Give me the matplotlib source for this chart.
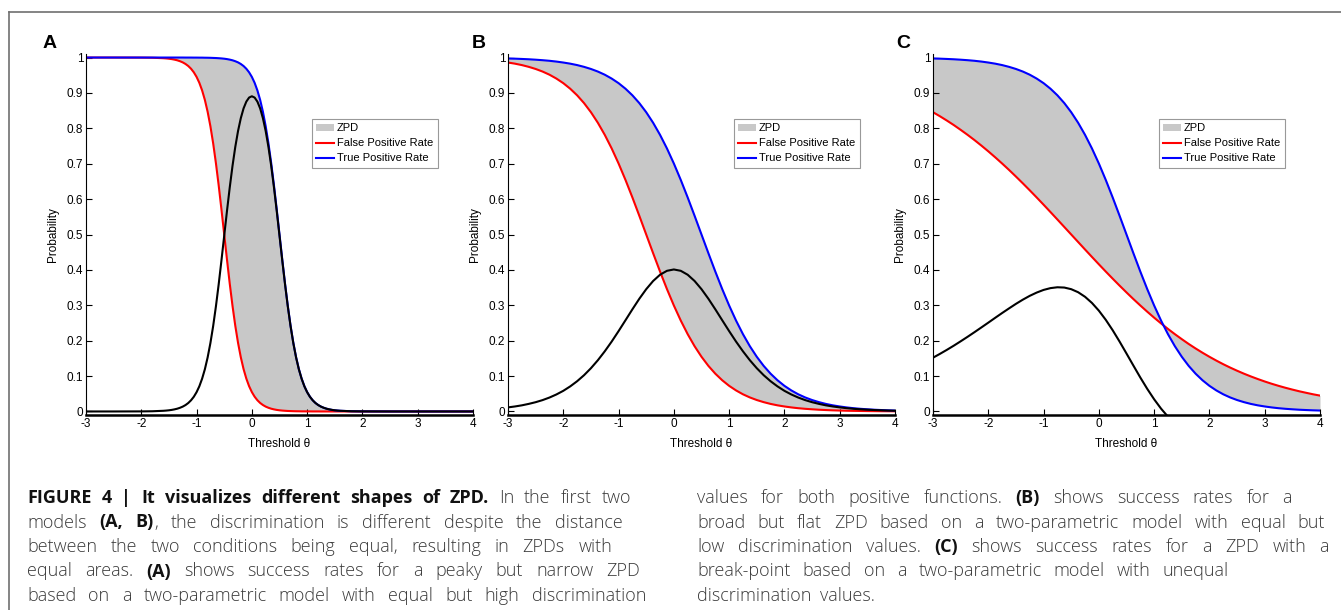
import matplotlib
matplotlib.use('Agg')
import matplotlib.pyplot as plt
from matplotlib.lines import Line2D

plt.rcParams['font.family'] = ['Liberation Sans', 'DejaVu Sans']
plt.rcParams['axes.unicode_minus'] = False

# ---- data ----
# panel A: steep curves, sampled finer in the middle
theta_a = [-3, -2.5, -2, -1.8,
           -1.6, -1.55, -1.5, -1.45, -1.4, -1.35, -1.3, -1.25, -1.2, -1.15, -1.1, -1.05,
           -1.0, -0.95, -0.9, -0.85, -0.8, -0.75, -0.7, -0.65, -0.6, -0.55, -0.5, -0.45,
           -0.4, -0.35, -0.3, -0.25, -0.2, -0.15, -0.1, -0.05, 0.0, 0.05, 0.1, 0.15, 0.2,
           0.25, 0.3, 0.35, 0.4, 0.45, 0.5, 0.55, 0.6, 0.65, 0.7, 0.75, 0.8, 0.85, 0.9,
           0.95, 1.0, 1.05, 1.1, 1.15, 1.2, 1.25, 1.3, 1.35, 1.4, 1.45, 1.5, 1.55, 1.6,
           1.8, 2, 2.5, 3, 3.5, 4]
fpr_a = [1.0, 1.0, 0.9998, 0.9994,
         0.9981, 0.9975, 0.9967, 0.9956, 0.9941, 0.9922, 0.9896, 0.9863, 0.9818, 0.9760,
         0.9683, 0.9583, 0.9453, 0.9286, 0.9072, 0.8803, 0.8468, 0.8061, 0.7577, 0.7016,
         0.6388, 0.5708, 0.5, 0.4292, 0.3612, 0.2984, 0.2423, 0.1939, 0.1532, 0.1197,
         0.0928, 0.0714, 0.0547, 0.0417, 0.0317, 0.0240, 0.0182, 0.0137, 0.0104, 0.0078,
         0.0059, 0.0044, 0.0033, 0.0025, 0.0019, 0.0014, 0.0011, 0.0008, 0.0006, 0.0005,
         0.0003, 0.0003, 0.0002, 0.0002, 0.0001, 0.0001, 0.0001, 0.0, 0.0, 0.0, 0.0, 0.0,
         0.0, 0.0, 0.0,
         0.0, 0.0, 0.0, 0.0, 0.0, 0.0]
tpr_a = [1.0, 1.0, 1.0, 1.0,
         1.0, 1.0, 1.0, 1.0, 1.0, 1.0, 1.0, 1.0, 0.9999, 0.9999, 0.9999, 0.9998, 0.9998,
         0.9997, 0.9997, 0.9995, 0.9994, 0.9992, 0.9989, 0.9986, 0.9981, 0.9975, 0.9967,
         0.9956, 0.9941, 0.9922, 0.9896, 0.9863, 0.9818, 0.9760, 0.9683, 0.9583, 0.9453,
         0.9286, 0.9072, 0.8803, 0.8468, 0.8061, 0.7577, 0.7016, 0.6388, 0.5708, 0.5,
         0.4292, 0.3612, 0.2984, 0.2423, 0.1939, 0.1532, 0.1197, 0.0928, 0.0714, 0.0547,
         0.0417, 0.0317, 0.0240, 0.0182, 0.0137, 0.0104, 0.0078, 0.0059, 0.0044, 0.0033,
         0.0025, 0.0019,
         0.0006, 0.0002, 0.0, 0.0, 0.0, 0.0]
zpd_a = [0.0, 0.0, 0.0002, 0.0006,
         0.0019, 0.0025, 0.0033, 0.0044, 0.0059, 0.0078, 0.0104, 0.0137, 0.0181, 0.0239,
         0.0316, 0.0415, 0.0545, 0.0711, 0.0925, 0.1192, 0.1526, 0.1931, 0.2412, 0.2970,
         0.3593, 0.4267, 0.4967, 0.5664, 0.6329, 0.6938, 0.7473, 0.7924, 0.8286, 0.8563,
         0.8755, 0.8869, 0.8906, 0.8869, 0.8755, 0.8563, 0.8286, 0.7924, 0.7473, 0.6938,
         0.6329, 0.5664, 0.4967, 0.4267, 0.3593, 0.2970, 0.2412, 0.1931, 0.1526, 0.1192,
         0.0925, 0.0711, 0.0545, 0.0415, 0.0316, 0.0239, 0.0181, 0.0137, 0.0104, 0.0078,
         0.0059, 0.0044, 0.0033, 0.0025, 0.0019,
         0.0006, 0.0002, 0.0, 0.0, 0.0, 0.0]

# panels B and C, theta from -3 to 4 in steps of 0.125
theta = [-3.0, -2.875, -2.75, -2.625, -2.5, -2.375, -2.25, -2.125, -2.0, -1.875, -1.75,
         -1.625, -1.5, -1.375, -1.25, -1.125, -1.0, -0.875, -0.75, -0.625, -0.5, -0.375,
         -0.25, -0.125, 0.0, 0.125, 0.25, 0.375, 0.5, 0.625, 0.75, 0.875, 1.0, 1.125, 1.25,
         1.375, 1.5, 1.625, 1.75, 1.875, 2.0, 2.125, 2.25, 2.375, 2.5, 2.625, 2.75, 2.875,
         3.0, 3.125, 3.25, 3.375, 3.5, 3.625, 3.75, 3.875, 4.0]
fpr_b = [0.9859, 0.9827, 0.9787, 0.9737, 0.9677, 0.9604, 0.9515, 0.9406, 0.9276, 0.9119,
         0.8933, 0.8713, 0.8455, 0.8157, 0.7816, 0.7432, 0.7006, 0.6542, 0.6047, 0.5529,
         0.5, 0.4471, 0.3953, 0.3458, 0.2994, 0.2568, 0.2184, 0.1843, 0.1545, 0.1287,
         0.1067, 0.0881, 0.0724, 0.0594, 0.0485, 0.0396, 0.0323, 0.0263, 0.0213, 0.0173,
         0.0141, 0.0114, 0.0092, 0.0075, 0.0061, 0.0049, 0.0040, 0.0032, 0.0026, 0.0021,
         0.0017, 0.0014, 0.0011, 0.0009, 0.0007, 0.0006, 0.0005]
tpr_b = [0.9974, 0.9968, 0.9960, 0.9951, 0.9939, 0.9925, 0.9908, 0.9886, 0.9859, 0.9827,
         0.9787, 0.9737, 0.9677, 0.9604, 0.9515, 0.9406, 0.9276, 0.9119, 0.8933, 0.8713,
         0.8455, 0.8157, 0.7816, 0.7432, 0.7006, 0.6542, 0.6047, 0.5529, 0.5, 0.4471,
         0.3953, 0.3458, 0.2994, 0.2568, 0.2184, 0.1843, 0.1545, 0.1287, 0.1067, 0.0881,
         0.0724, 0.0594, 0.0485, 0.0396, 0.0323, 0.0263, 0.0213, 0.0173, 0.0141, 0.0114,
         0.0092, 0.0075, 0.0061, 0.0049, 0.0040, 0.0032, 0.0026]
zpd_b = [0.0115, 0.0141, 0.0173, 0.0214, 0.0262, 0.0321, 0.0393, 0.0480, 0.0583, 0.0708,
         0.0854, 0.1024, 0.1222, 0.1447, 0.1699, 0.1974, 0.2270, 0.2577, 0.2886, 0.3184,
         0.3455, 0.3686, 0.3863, 0.3974, 0.4012, 0.3974, 0.3863, 0.3686, 0.3455, 0.3184,
         0.2886, 0.2577, 0.2270, 0.1974, 0.1699, 0.1447, 0.1222, 0.1024, 0.0854, 0.0708,
         0.0583, 0.0480, 0.0393, 0.0321, 0.0262, 0.0214, 0.0173, 0.0141, 0.0115, 0.0093,
         0.0075, 0.0061, 0.0050, 0.0040, 0.0033, 0.0026, 0.0021]
fpr_c = [0.8455, 0.8341, 0.8220, 0.8093, 0.7957, 0.7816, 0.7668, 0.7512, 0.7350, 0.7181,
         0.7006, 0.6825, 0.6637, 0.6445, 0.6248, 0.6047, 0.5842, 0.5634, 0.5424, 0.5212,
         0.5, 0.4788, 0.4576, 0.4366, 0.4158, 0.3953, 0.3752, 0.3555, 0.3363, 0.3175,
         0.2994, 0.2819, 0.2650, 0.2488, 0.2332, 0.2184, 0.2043, 0.1907, 0.1780, 0.1659,
         0.1545, 0.1437, 0.1335, 0.1240, 0.1151, 0.1067, 0.0989, 0.0916, 0.0847, 0.0783,
         0.0724, 0.0669, 0.0618, 0.0570, 0.0527, 0.0485, 0.0448]
tpr_c = [0.9974, 0.9968, 0.9960, 0.9951, 0.9939, 0.9925, 0.9908, 0.9886, 0.9859, 0.9827,
         0.9787, 0.9737, 0.9677, 0.9604, 0.9515, 0.9406, 0.9276, 0.9119, 0.8933, 0.8713,
         0.8455, 0.8157, 0.7816, 0.7432, 0.7006, 0.6542, 0.6047, 0.5529, 0.5, 0.4471,
         0.3953, 0.3458, 0.2994, 0.2568, 0.2184, 0.1843, 0.1545, 0.1287, 0.1067, 0.0881,
         0.0724, 0.0594, 0.0485, 0.0396, 0.0323, 0.0263, 0.0213, 0.0173, 0.0141, 0.0114,
         0.0092, 0.0075, 0.0061, 0.0049, 0.0040, 0.0032, 0.0026]
zpd_c = [0.1519, 0.1627, 0.1740, 0.1858, 0.1982, 0.2109, 0.2240, 0.2374, 0.2509, 0.2646,
         0.2781, 0.2912, 0.3040, 0.3159, 0.3267, 0.3359, 0.3434, 0.3485, 0.3509, 0.3501,
         0.3455, 0.3369, 0.3240, 0.3066, 0.2848, 0.2589, 0.2295, 0.1974, 0.1637, 0.1296,
         0.0959, 0.0639, 0.0344, 0.0080, -0.0148, -0.0341, -0.0498, -0.0620, -0.0713,
         -0.0778, -0.0821, -0.0843, -0.0850, -0.0844, -0.0828, -0.0804, -0.0776, -0.0743,
         -0.0706, -0.0669, -0.0632, -0.0594, -0.0557, -0.0521, -0.0487, -0.0453, -0.0422]

xticks = [-3, -2, -1, 0, 1, 2, 3, 4]
yticks = [0, 0.1, 0.2, 0.3, 0.4, 0.5, 0.6, 0.7, 0.8, 0.9, 1]
ytick_labels = ['0', '0.1', '0.2', '0.3', '0.4', '0.5', '0.6', '0.7', '0.8', '0.9', '1']
series_names = ['ZPD', 'False Positive Rate', 'True Positive Rate']

caption_left = [
    "**FIGURE 4 | It visualizes different shapes of ZPD.** In the first two",
    "models **(A, B)**, the discrimination is different despite the distance",
    "between the two conditions being equal, resulting in ZPDs with",
    "equal areas. **(A)** shows success rates for a peaky but narrow ZPD",
    "based on a two-parametric model with equal but high discrimination",
]
caption_right = [
    "values for both positive functions. **(B)** shows success rates for a",
    "broad but flat ZPD based on a two-parametric model with equal but",
    "low discrimination values. **(C)** shows success rates for a ZPD with a",
    "break-point based on a two-parametric model with unequal",
    "discrimination values.",
]

# ---- figure ----
W, H = 1341, 610
fig = plt.figure(figsize=(W / 100, H / 100), dpi=100)

panels = [
    ('A', theta_a, fpr_a, tpr_a, zpd_a, 86, 42.7),
    ('B', theta, fpr_b, tpr_b, zpd_b, 508, 471.7),
    ('C', theta, fpr_c, tpr_c, zpd_c, 933, 896.7),
]

for letter, x, fpr, tpr, zpd, left, lx in panels:
    ax = fig.add_axes([left / W, (H - 415) / H, 387 / W, 361 / H])
    ax.fill_between(x, fpr, tpr, color='#c8c8c8', lw=0, label=series_names[0])
    ax.plot(x, fpr, color='#ff0000', lw=1.5, label=series_names[1])
    ax.plot(x, tpr, color='#0000ff', lw=1.5, label=series_names[2])
    ax.plot(x, zpd, color='black', lw=1.5)
    ax.set_xlim(-3, 4)
    ax.set_ylim(-0.01, 1.01)
    ax.set_xticks(xticks)
    ax.set_yticks(yticks)
    ax.set_yticklabels(ytick_labels)
    ax.spines['top'].set_visible(False)
    ax.spines['right'].set_visible(False)
    ax.spines['bottom'].set_linewidth(1.8)
    ax.spines['left'].set_linewidth(0.8)
    ax.tick_params(direction='in', length=4, width=0.8, labelsize=8.5, pad=2)
    ax.set_xlabel('Threshold θ', fontsize=8.5)
    ax.xaxis.set_label_coords(0.5, -0.064)
    ax.set_ylabel('Probability', fontsize=8.5)
    ax.yaxis.set_label_coords(-0.07, 0.5)
    leg = ax.legend(loc='upper left', bbox_to_anchor=(0.584, 0.82), borderaxespad=0,
                    fontsize=8, fancybox=False, handlelength=1.6, handletextpad=0.25,
                    labelspacing=0.45, borderpad=0.4, edgecolor='#999999', framealpha=1)
    leg.get_frame().set_linewidth(0.8)
    fig.text(lx / W, 1 - 48.3 / H, letter, fontsize=14, fontweight='bold',
             ha='left', va='baseline')

# outer frame
frame_kw = dict(color='#707070', lw=1.2, transform=fig.transFigure)
fig.add_artist(Line2D([9 / W, 1], [1 - 12 / H, 1 - 12 / H], **frame_kw))
fig.add_artist(Line2D([9 / W, 9 / W], [1 - 12 / H, 0], **frame_kw))

# caption, justified word by word
renderer = fig.canvas.get_renderer()
cap_font = ['Open Sans', 'Liberation Sans', 'DejaVu Sans']


def split_words(line):
    words, cur = [], []
    for i, seg in enumerate(line.split('**')):
        bold = i % 2 == 1
        for j, part in enumerate(seg.split(' ')):
            if j > 0 and cur:
                words.append(cur)
                cur = []
            if part:
                cur.append((part, bold))
    if cur:
        words.append(cur)
    return words


def put_line(line, x0, x1, base):
    y = 1 - base / H
    placed = []
    for word in split_words(line):
        pieces = []
        for txt, bold in word:
            t = fig.text(0, y, txt, fontsize=13, family=cap_font,
                         fontweight='bold' if bold else 'light',
                         color='#111111' if bold else '#3a3a3a',
                         ha='left', va='baseline')
            pieces.append((t, t.get_window_extent(renderer).width))
        placed.append(pieces)
    widths = [sum(w for _, w in p) for p in placed]
    if x1 is None or len(placed) < 2:
        gap = 9
    else:
        gap = (x1 - x0 - sum(widths)) / (len(placed) - 1)
    cx = x0
    for pieces, w in zip(placed, widths):
        px = cx
        for t, pw in pieces:
            t.set_x(px / W)
            px += pw
        cx += w + gap


baselines = [503, 527.5, 552, 576.5, 601]
left_ends = [631, 623, 612, 640, 646]
right_ends = [1292, 1325, 1329, 1229, None]
for line, b, e in zip(caption_left, baselines, left_ends):
    put_line(line, 27, e, b)
for line, b, e in zip(caption_right, baselines, right_ends):
    put_line(line, 697, e, b)

fig.savefig('out.png', dpi=100)
